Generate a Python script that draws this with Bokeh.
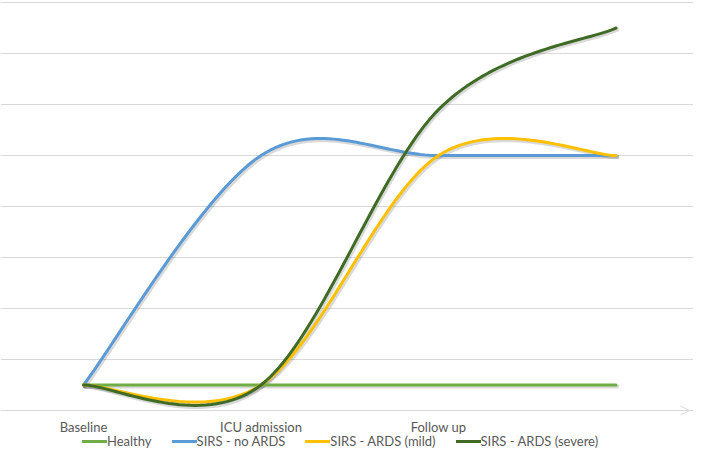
import numpy as np
from bokeh.plotting import figure
from bokeh.models import (FixedTicker, Legend, LegendItem, Range1d, Arrow, OpenHead,
                          Span, ColumnDataSource)
from bokeh.core.properties import value
from bokeh.embed import file_html
from bokeh.resources import INLINE

# ---- data ----
categories = ["Baseline", "ICU admission", "Follow up", ""]
healthy = [0.5, 0.5, 0.5, 0.5]
sirs_no_ards = [0.5, 5.0, 5.0, 5.0]
sirs_ards_mild = [0.5, 0.5, 5.0, 5.0]
sirs_ards_severe = [0.5, 0.5, 5.9, 7.5]

series = [
    ("Healthy", healthy, "#70AD47"),
    ("SIRS - no ARDS", sirs_no_ards, "#5B9BD5"),
    ("SIRS - ARDS (mild)", sirs_ards_mild, "#FFC000"),
    ("SIRS - ARDS (severe)", sirs_ards_severe, "#3F6B25"),
]


def smooth(xs, ys, n=40):
    """Excel-style smoothed line (cubic Bezier, 1/6 neighbour tangents)."""
    pts = np.column_stack([xs, ys]).astype(float)
    ext = np.vstack([pts[0], pts, pts[-1]])
    out = []
    t = np.linspace(0, 1, n)
    for i in range(len(pts) - 1):
        p0, p1, p2, p3 = ext[i], ext[i + 1], ext[i + 2], ext[i + 3]
        c1 = p1 + (p2 - p0) / 6.0
        c2 = p2 - (p3 - p1) / 6.0
        seg = ((1 - t) ** 3)[:, None] * p1 + (3 * (1 - t) ** 2 * t)[:, None] * c1 \
            + (3 * (1 - t) * t ** 2)[:, None] * c2 + (t ** 3)[:, None] * p2
        out.append(seg if i == 0 else seg[1:])
    arr = np.vstack(out)
    return arr[:, 0], arr[:, 1]


W, H = 693, 450
X0 = 83.0      # pixel of first category
PX_X = 177.5   # pixels per category
Y0 = 410.0     # pixel of value 0
PX_Y = 51.0    # pixels per value unit

p = figure(width=W, height=H, output_backend="svg", toolbar_location=None,
           x_range=Range1d(-X0 / PX_X, (W - X0) / PX_X),
           y_range=Range1d(-(H - Y0) / PX_Y, Y0 / PX_Y),
           min_border_left=0, min_border_right=0, min_border_top=0, min_border_bottom=0)
p.outline_line_color = None
p.background_fill_color = "white"
p.border_fill_color = "white"
p.axis.visible = False
p.xgrid.visible = False
p.ygrid.ticker = FixedTicker(ticks=list(range(0, 9)))
p.ygrid.grid_line_color = "#D9D9D9"
p.ygrid.grid_line_width = 1

# category axis line with arrow
p.add_layout(Span(location=0, dimension="width", line_color="#D9D9D9", line_width=1))
p.add_layout(Arrow(end=OpenHead(size=9, line_color="#D9D9D9", line_width=1),
                   x_start=3.30, y_start=0, x_end=(W - 4 - X0) / PX_X, y_end=0,
                   line_color="#D9D9D9", line_width=1))

xs = list(range(len(categories)))
lab = ColumnDataSource(dict(x=xs, y=[0] * len(xs), text=categories))
p.text(x="x", y="y", text="text", source=lab, y_offset=16,
       text_align="center", text_baseline="middle",
       text_font=value("Lato"), text_font_size="13px", text_color="#595959")

dx = 1.3 / PX_X
dy = 1.6 / PX_Y
items = []
for name, vals, col in series:
    sx, sy = smooth(xs, vals)
    p.line(sx + dx, sy - dy, line_color="black", line_alpha=0.15, line_width=4,
           line_cap="round", line_join="round")
for name, vals, col in series:
    sx, sy = smooth(xs, vals)
    r = p.line(sx, sy, line_color=col, line_width=3, line_cap="round", line_join="round")
    items.append(LegendItem(label=name, renderers=[r]))

legend = Legend(items=items, orientation="horizontal", location=(X0 - 1, 1),
                glyph_width=25, glyph_height=14, label_standoff=0, spacing=20,
                padding=0, margin=0, border_line_alpha=0, background_fill_alpha=0,
                label_text_font="Lato", label_text_font_size="13px",
                label_text_color="#595959", label_height=14)
p.add_layout(legend, "center")

open("out.html", "w").write(file_html(p, INLINE))
